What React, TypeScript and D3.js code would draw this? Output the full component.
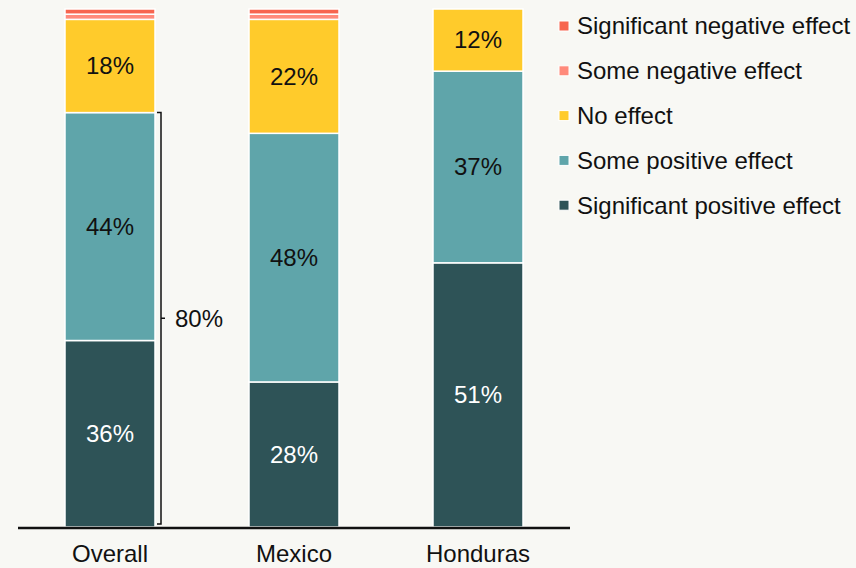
import React from "react";
import * as d3 from "d3";

const categories = ["Overall", "Mexico", "Honduras"];
const seriesNames = [
  "Significant positive effect",
  "Some positive effect",
  "No effect",
  "Some negative effect",
  "Significant negative effect",
];
const sigPositive = [36, 28, 51];
const somePositive = [44, 48, 37];
const noEffect = [18, 22, 12];
const someNegative = [1, 1, 0];
const sigNegative = [1, 1, 0];
const colors = ["#2e5357", "#5fa5aa", "#ffcb2b", "#ff8a7b", "#f7654f"];
const textColors = ["#ffffff", "#111111", "#111111", "#111111", "#111111"];
const bracketLabel = "80%";

const W = 856;
const H = 568;
const FONT = "'Liberation Sans', Arial, sans-serif";
const FS = 24;

export default function App() {
  const series = [sigPositive, somePositive, noEffect, someNegative, sigNegative];
  const rows = categories.map((c, i) => {
    const r: any = { cat: c };
    seriesNames.forEach((s, j) => (r[s] = series[j][i]));
    return r;
  });
  const stacked = d3.stack<any>().keys(seriesNames)(rows);

  const x = d3.scaleBand().domain(categories).range([18, 570]).paddingInner(1 - 90 / 184).paddingOuter((47 / 184));
  const y = d3.scaleLinear().domain([0, 100]).range([527, 9]);
  const bw = x.bandwidth();

  const bx = (x("Overall") as number) + bw + 6;
  const by0 = y(stacked[1][0][1]);
  const by1 = y(0) - 3;

  return (
    <svg width={W} height={H} style={{ position: "absolute", left: 0, top: 0, background: "#f8f8f4" }} fontFamily={FONT}>
      <rect width={W} height={H} fill="#f8f8f4" />
      {stacked.map((layer, j) => (
        <g key={layer.key}>
          {layer.map((d, i) => {
            const h = y(d[0]) - y(d[1]);
            if (h <= 0) return null;
            return (
              <rect
                key={i}
                x={x(categories[i])}
                y={y(d[1])}
                width={bw}
                height={h}
                fill={colors[j]}
                stroke="#ffffff"
                strokeWidth={1.5}
              />
            );
          })}
          {j < 3 &&
            layer.map((d, i) => (
              <text
                key={"t" + i}
                x={(x(categories[i]) as number) + bw / 2}
                y={(y(d[0]) + y(d[1])) / 2}
                dy="0.35em"
                textAnchor="middle"
                fontSize={FS}
                fill={textColors[j]}
              >
                {series[j][i]}%
              </text>
            ))}
        </g>
      ))}
      <path
        d={`M${bx - 4},${by0} H${bx} V${by1} H${bx - 4} M${bx},${(by0 + by1) / 2} H${bx + 4}`}
        fill="none"
        stroke="#111"
        strokeWidth={1.5}
      />
      <text x={bx + 14} y={(by0 + by1) / 2} dy="0.35em" fontSize={FS} fill="#111">
        {bracketLabel}
      </text>
      <line x1={18} x2={570} y1={528} y2={528} stroke="#111" strokeWidth={2.5} />
      {categories.map((c) => (
        <text key={c} x={(x(c) as number) + bw / 2} y={562} textAnchor="middle" fontSize={FS} fill="#111">
          {c}
        </text>
      ))}
      {seriesNames
        .slice()
        .reverse()
        .map((s, k) => {
          const j = seriesNames.length - 1 - k;
          const ly = 26 + k * 44.8;
          return (
            <g key={s}>
              <rect x={559} y={ly - 5} width={10} height={10} fill={colors[j]} stroke="#fff" strokeWidth={1} />
              <text x={577} y={ly} dy="0.35em" fontSize={FS} fill="#111">
                {s}
              </text>
            </g>
          );
        })}
    </svg>
  );
}
